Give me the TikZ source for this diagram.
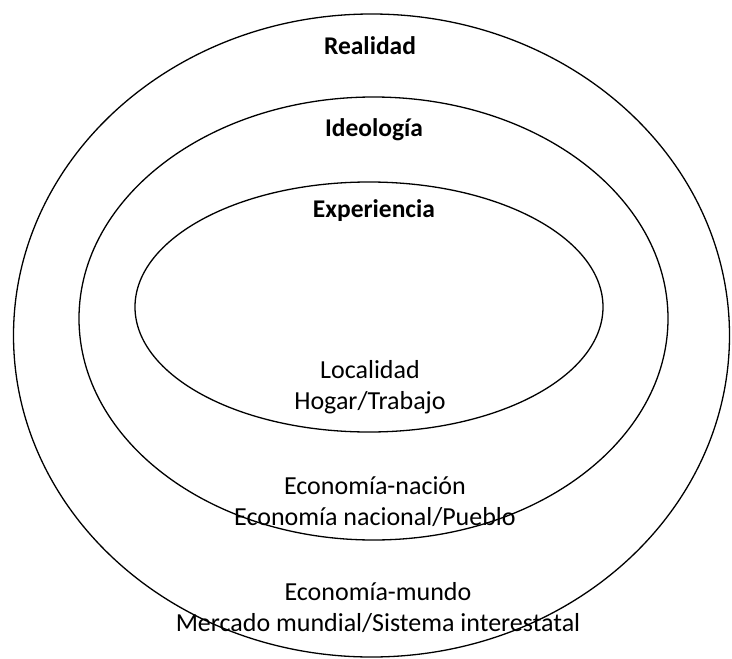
\documentclass[tikz,border=0pt]{standalone}
\usepackage{fontspec}
\setmainfont{Carlito}
\usetikzlibrary{positioning}

\begin{document}
\begin{tikzpicture}[x=1pt, y=-1pt, line width=1.3pt,
    title/.style={font=\fontsize{25.5}{30}\selectfont\bfseries},
    level/.style={font=\fontsize{26}{31}\selectfont, align=center, inner sep=0pt}]
    \useasboundingbox (0,0) rectangle (732,659);

    % the three spheres
    \draw (371.5,335.5) ellipse [x radius=358, y radius=321.5];
    \draw (373.5,318.5) ellipse [x radius=294.5, y radius=221.5];
    \draw (369,307) ellipse [x radius=234, y radius=125];

    \node[title] (realidad) at (370,46) {Realidad};
    \node[title] (ideologia) at (374,130) {Ideología};
    \node[title] (experiencia) at (374,211) {Experiencia};

    \node[level] (localidad) at (370,387) {Localidad\\Hogar/Trabajo};
    \node[level] (nacion) at (375,502) {Economía-nación\\Economía nacional/Pueblo};
    \node[level] (mundo) at (378,608) {Economía-mundo\\Mercado mundial/Sistema interestatal};
\end{tikzpicture}
\end{document}
